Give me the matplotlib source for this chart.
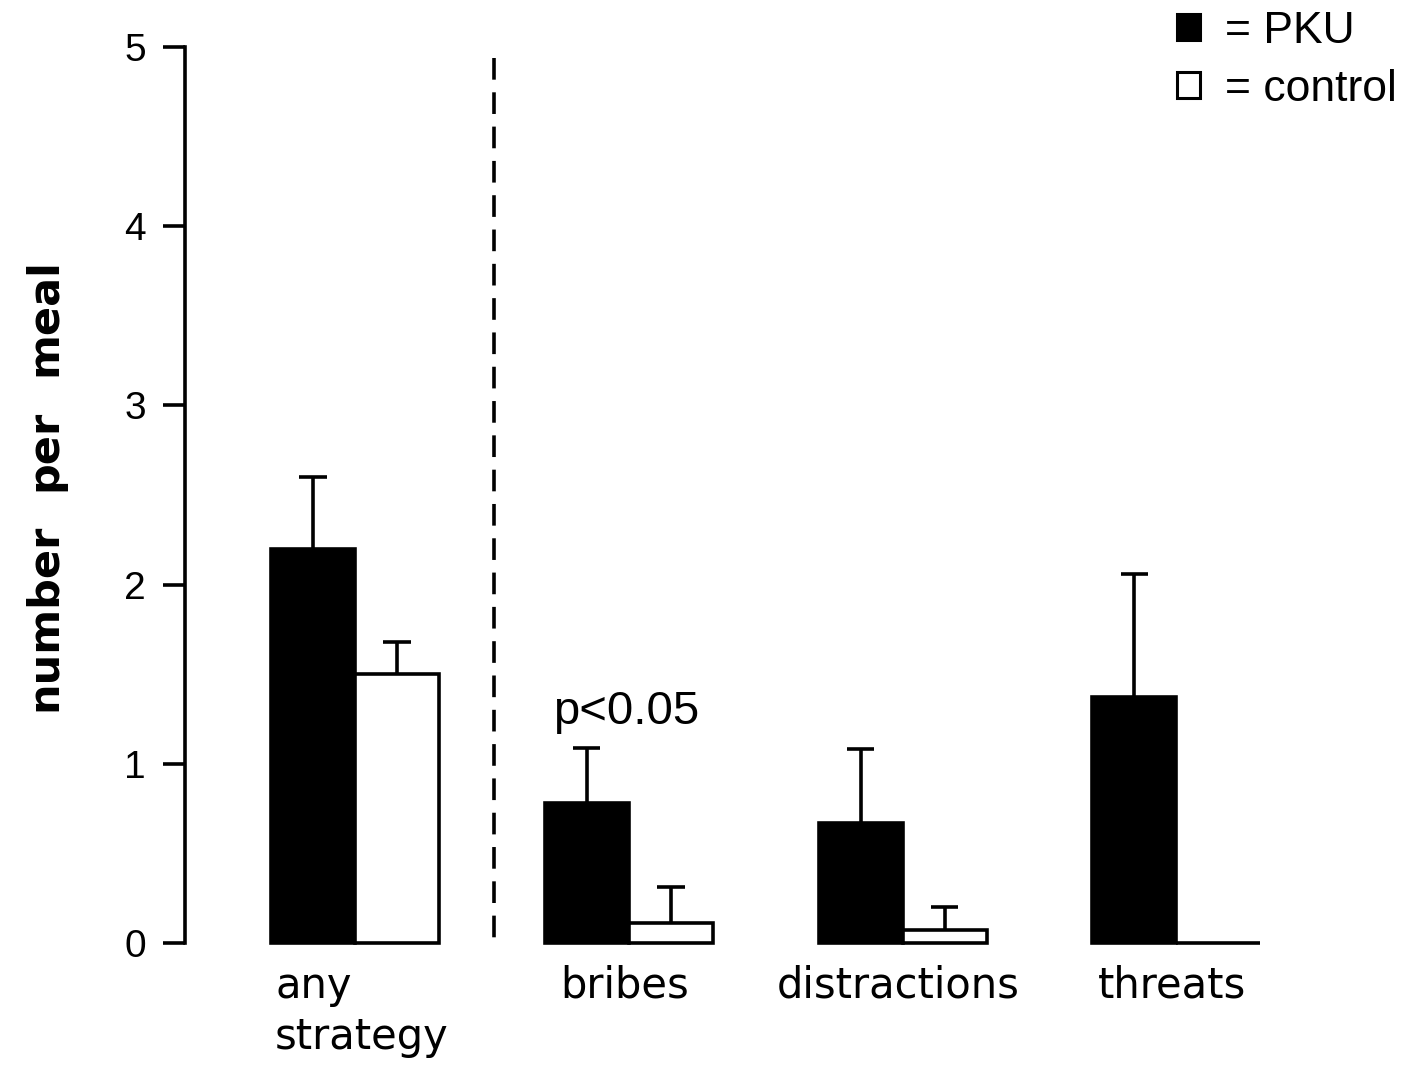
import matplotlib
matplotlib.use("Agg")
import matplotlib.pyplot as plt
import numpy as np
from matplotlib.patches import Patch

categories = ["any\nstrategy", "bribes", "distractions", "threats"]
pku_mean = [2.20, 0.78, 0.67, 1.37]
pku_err = [0.40, 0.31, 0.41, 0.69]
ctrl_mean = [1.50, 0.11, 0.07, 0.0]
ctrl_err = [0.18, 0.20, 0.13, 0.0]
ylabel_words = ["number", "per", "meal"]
yticks = [0, 1, 2, 3, 4, 5]

W, H = 1413, 1067
fig = plt.figure(figsize=(W / 100, H / 100), dpi=100)
ax = fig.add_axes([185 / W, 1 - 943 / H, 1085 / W, (943 - 47) / H])

pos = np.arange(len(categories))
bw = 0.307
lw = 2.6
cap = 0.05

b1 = ax.bar(pos - bw / 2, pku_mean, width=bw, color="black", edgecolor="black",
            linewidth=lw, zorder=2)
b2 = ax.bar(pos + bw / 2, ctrl_mean, width=bw, color="white", edgecolor="black",
            linewidth=lw, zorder=2)
for p in list(b1) + list(b2):
    p.set_clip_on(False)


def upper_err(xs, means, errs):
    xs = np.asarray(xs)
    means = np.asarray(means)
    errs = np.asarray(errs)
    m = errs > 0
    ax.vlines(xs[m], means[m], means[m] + errs[m], color="black", linewidth=lw, zorder=1)
    ax.hlines(means[m] + errs[m], xs[m] - cap, xs[m] + cap, color="black", linewidth=lw,
              zorder=1)


upper_err(pos - bw / 2, pku_mean, pku_err)
upper_err(pos + bw / 2, ctrl_mean, ctrl_err)

# dashed separator
ax.plot([0.508, 0.508], [4.94, 0], color="black", linestyle=(0, (6, 3.5)), linewidth=lw,
        clip_on=False)

ax.set_xlim(-0.621, 3.342)
ax.set_ylim(0, 5)
for s in ["top", "right", "bottom"]:
    ax.spines[s].set_visible(False)
ax.spines["left"].set_linewidth(lw)
ax.set_yticks(yticks)
ax.set_yticklabels([str(t) for t in yticks])
ax.tick_params(axis="y", length=16, width=lw, pad=12, direction="out",
               labelsize=28, labelfontfamily="Liberation Sans")
ax.set_xticks([])

# category labels
for i, c in enumerate(categories):
    if i == 0:
        ax.text(-0.292, -0.024, c, transform=ax.get_xaxis_transform(), ha="left", va="top",
                fontfamily="DejaVu Sans", fontsize=30, linespacing=1.3)
    else:
        ax.text(pos[i] - 0.015, -0.024, c, transform=ax.get_xaxis_transform(), ha="center",
                va="top", fontfamily="DejaVu Sans", fontsize=30)

# y label, word by word
ycent = [617, 450, 317]
for wd, yc in zip(ylabel_words, ycent):
    fig.text(44 / W, 1 - yc / H, wd, rotation=90, ha="center", va="center",
             fontfamily="DejaVu Sans", fontsize=31, fontweight="bold")

# significance annotation
ax.text(pos[1] - 0.01, 1.29, "p<0.05", ha="center", va="center",
        fontfamily="Liberation Sans", fontsize=34)

handles = [Patch(facecolor="black", edgecolor="black", linewidth=2.2),
           Patch(facecolor="white", edgecolor="black", linewidth=2.2)]
fig.legend(handles, ["= PKU", "= control"], loc="upper left",
           bbox_to_anchor=(1177 / W, 1 - 11 / H), frameon=False,
           prop={"family": "Liberation Sans", "size": 32},
           handlelength=0.52, handleheight=0.52, handletextpad=0.55,
           labelspacing=0.38, borderpad=0, borderaxespad=0)

fig.savefig("out.png", dpi=100, facecolor="white")
